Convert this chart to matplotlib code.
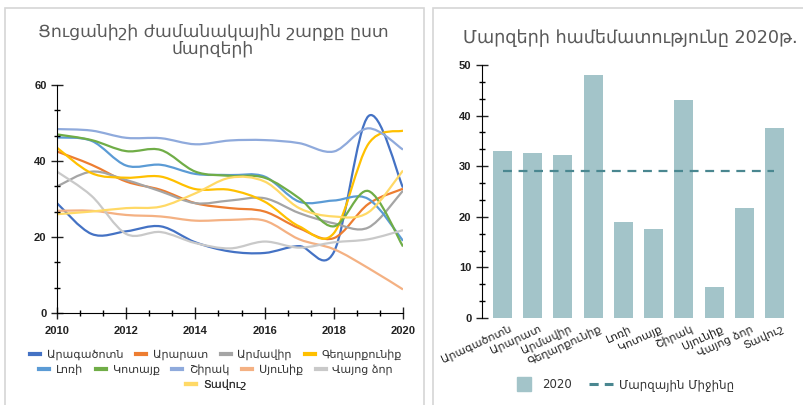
import numpy as np
import matplotlib
matplotlib.use("Agg")
import matplotlib.pyplot as plt
from matplotlib.path import Path
from matplotlib.patches import PathPatch, Rectangle
from matplotlib.lines import Line2D
from matplotlib.ticker import MultipleLocator
from matplotlib.transforms import ScaledTranslation

plt.rcParams['font.family'] = ['DejaVu Sans']

years = list(range(2010, 2021))
regions = ["Արագածոտն", "Արարատ", "Արմավիր", "Գեղարքունիք", "Լոռի",
           "Կոտայք", "Շիրակ", "Սյունիք", "Վայոց ձոր", "Տավուշ"]
colors = ["#4472C4", "#ED7D31", "#A5A5A5", "#FFC000", "#5B9BD5",
          "#70AD47", "#8FAADC", "#F4B183", "#C9C9C9", "#FFD966"]

# values, 2010..2020
aragatsotn = [28.9, 20.8, 21.5, 22.8, 18.6, 16.2, 15.8, 17.6, 16.0, 51.8, 33.0]
ararat = [42.5, 39.0, 34.6, 32.4, 28.9, 27.6, 26.7, 22.3, 19.7, 28.7, 32.7]
armavir = [33.3, 37.2, 35.0, 32.0, 28.9, 29.6, 30.2, 26.3, 23.6, 22.5, 32.2]
gegharkunik = [43.5, 36.8, 35.6, 35.9, 32.6, 32.4, 29.3, 22.8, 21.0, 44.5, 48.0]
lori = [46.2, 45.3, 38.8, 39.0, 36.6, 36.3, 35.9, 29.3, 29.6, 30.0, 19.0]
kotayk = [47.0, 45.5, 42.6, 42.9, 37.2, 36.1, 35.6, 30.2, 22.8, 32.1, 17.5]
shirak = [48.4, 48.0, 46.1, 46.0, 44.4, 45.4, 45.5, 44.7, 42.5, 48.6, 43.0]
syunik = [26.9, 26.9, 25.8, 25.4, 24.3, 24.5, 24.3, 19.4, 16.8, 11.8, 6.2]
vayots_dzor = [37.2, 30.8, 20.8, 21.3, 18.4, 17.0, 18.8, 17.2, 18.6, 19.4, 21.8]
tavush = [26.0, 26.7, 27.6, 28.0, 31.5, 35.6, 34.6, 27.6, 25.4, 26.5, 37.5]

series = [aragatsotn, ararat, armavir, gegharkunik, lori,
          kotayk, shirak, syunik, vayots_dzor, tavush]

values_2020 = [s[-1] for s in series]
mean_2020 = float(np.mean(values_2020))

bar_color = "#A3C4C9"
mean_color = "#4A8790"
title_color = "#595959"
W, H = 804, 405


def smooth_path(xs, ys):
    # catmull-rom through the yearly points, as cubic bezier segments
    pts = np.column_stack([xs, ys]).astype(float)
    ext = np.vstack([pts[0], pts, pts[-1]])
    verts = [pts[0]]
    codes = [Path.MOVETO]
    for i in range(len(pts) - 1):
        p0, p1, p2, p3 = ext[i], ext[i + 1], ext[i + 2], ext[i + 3]
        verts += [p1 + (p2 - p0) / 6, p2 - (p3 - p1) / 6, p2]
        codes += [Path.CURVE4] * 3
    return Path(verts, codes)


def style_axis(ax):
    ax.tick_params(which='major', direction='inout', length=9, width=1,
                   labelsize=8, colors='#222222')
    ax.tick_params(which='minor', direction='inout', length=5, width=1)
    for lab in ax.get_xticklabels() + ax.get_yticklabels():
        lab.set_fontfamily('Liberation Sans')
        lab.set_fontweight('bold')


fig = plt.figure(figsize=(W / 100, H / 100), dpi=100)

# panel frames
for x0, x1 in [(5, 424), (433, 815)]:
    fig.patches.append(Rectangle((x0 / W, -0.1), (x1 - x0) / W, 1.1 - 8 / H,
                                 transform=fig.transFigure, fill=False,
                                 ec="#D6D6D6", lw=1.2))

# ---- left: time series ----
ax1 = fig.add_axes([57 / W, 1 - 313 / H, (403 - 57) / W, (313 - 85) / H])
for s, c in zip(series, colors):
    ax1.add_patch(PathPatch(smooth_path(years, s), fill=False, ec=c, lw=1.6))
ax1.set_xlim(2010, 2020)
ax1.set_ylim(0, 60)
ax1.xaxis.set_major_locator(MultipleLocator(2))
ax1.xaxis.set_minor_locator(MultipleLocator(2 / 3))
ax1.yaxis.set_major_locator(MultipleLocator(20))
ax1.yaxis.set_minor_locator(MultipleLocator(20 / 3))
for sp in ["top", "right"]:
    ax1.spines[sp].set_visible(False)
style_axis(ax1)
ax1.tick_params(axis='x', pad=5)
ax1.tick_params(axis='y', pad=3)

fig.text(213 / W, 1 - 40 / H, "Ցուցանիշի ժամանակային շարքը ըստ\nմարզերի",
         ha='center', va='center', fontsize=12.4, color=title_color,
         linespacing=0.95)

rows = [range(0, 4), range(4, 9), range(9, 10)]
row_y = [355, 370, 385]
for r, yy in zip(rows, row_y):
    handles = [Line2D([], [], color=colors[i], lw=3) for i in r]
    labels = [regions[i] for i in r]
    leg = ax1.legend(handles, labels, loc='center', ncol=len(handles),
                     bbox_to_anchor=(216 / W, 1 - yy / H),
                     bbox_transform=fig.transFigure, frameon=False,
                     fontsize=8, handlelength=0.9, handletextpad=0.6,
                     columnspacing=1.15, borderpad=0, borderaxespad=0)
    for t in leg.get_texts():
        t.set_color("#333333")
    ax1.add_artist(leg)

# ---- right: 2020 comparison ----
ax2 = fig.add_axes([482 / W, 1 - 318 / H, (795 - 482) / W, (318 - 65) / H])
xpos = np.arange(len(regions))
ax2.bar(xpos, values_2020, width=0.63, color=bar_color)
ax2.plot(xpos, [mean_2020] * len(xpos), color=mean_color, lw=1.6,
         ls=(0, (4, 3)))
ax2.set_xlim(-0.68, 9.68)
ax2.set_ylim(0, 50)
ax2.yaxis.set_major_locator(MultipleLocator(10))
ax2.yaxis.set_minor_locator(MultipleLocator(10 / 3))
ax2.set_xticks(xpos)
ax2.set_xticklabels(regions)
for sp in ["top", "right", "bottom"]:
    ax2.spines[sp].set_visible(False)
style_axis(ax2)
ax2.tick_params(axis='x', length=0, pad=4)
ax2.tick_params(axis='y', pad=3)
shift = ScaledTranslation(6 / 100, 0, fig.dpi_scale_trans)
for lab in ax2.get_xticklabels():
    lab.set_fontfamily('DejaVu Sans')
    lab.set_fontweight('normal')
    lab.set_fontsize(8)
    lab.set_rotation(25)
    lab.set_ha('right')
    lab.set_va('top')
    lab.set_rotation_mode('anchor')
    lab.set_transform(lab.get_transform() + shift)

fig.text(630 / W, 1 - 38 / H, "Մարզերի համեմատությունը 2020թ.",
         ha='center', va='center', fontsize=12.7, color=title_color)

h_bar = Line2D([], [], marker='s', ms=10, ls='none', color=bar_color)
h_mean = Line2D([], [], color=mean_color, lw=2.2, ls=(0, (3, 2)))
leg2 = ax2.legend([h_bar, h_mean], ["2020", "Մարզային Միջինը"], loc='center',
                  ncol=2, bbox_to_anchor=(623 / W, 1 - 385 / H),
                  bbox_transform=fig.transFigure, frameon=False, fontsize=8.5,
                  handlelength=2.0, handletextpad=0.5, columnspacing=1.5,
                  borderpad=0, borderaxespad=0)
for t in leg2.get_texts():
    t.set_color("#333333")

fig.savefig("out.png", dpi=100)
